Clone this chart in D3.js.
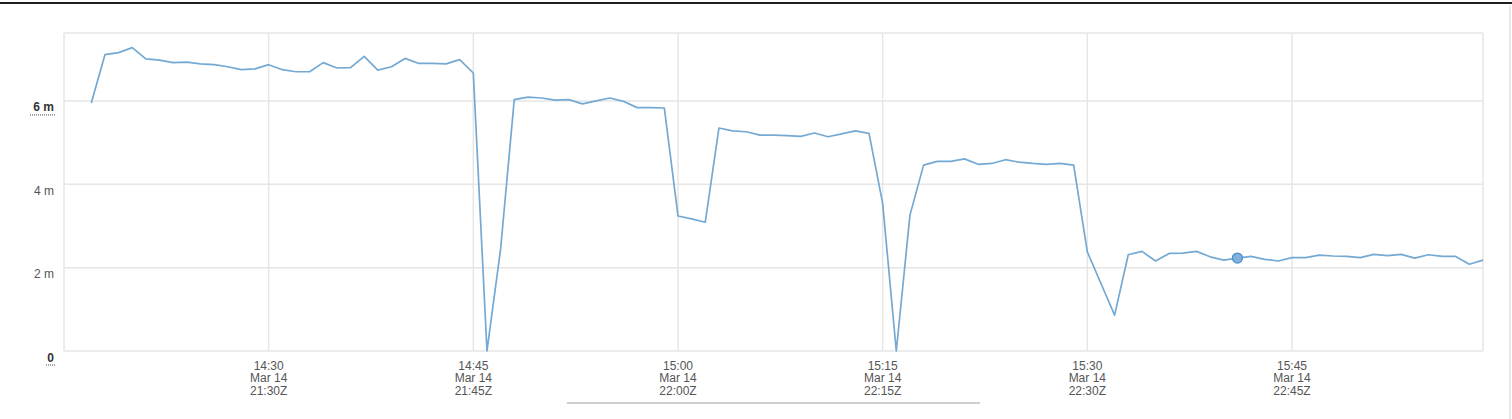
<!DOCTYPE html>
<html>
<head>
<meta charset="utf-8">
<script src="https://cdn.jsdelivr.net/npm/d3@7.9.0/dist/d3.min.js"></script>
<style>
  body { margin: 0; background: #fff; }
  svg { display: block; font-family: "Liberation Sans", Arial, sans-serif; }
  .grid line { stroke: #e6e6e6; stroke-width: 1.5; }
  .lbl { fill: #555; font-size: 12px; }
</style>
</head>
<body>
<svg id="chart" width="1512" height="419"></svg>
<script>
// first sample 21:17Z (14:17 local), one sample per minute
const startUtc = Date.UTC(2018, 2, 14, 21, 17);
const values = [
  5.95, 7.11, 7.16, 7.28, 7.01, 6.98, 6.92, 6.93, 6.89, 6.87, 6.82, 6.75, 6.77,
  6.87, 6.75, 6.70, 6.70, 6.92, 6.79, 6.80, 7.07, 6.74, 6.82, 7.02, 6.90, 6.90,
  6.89, 6.99, 6.67, 0.00, 2.45, 6.03, 6.09, 6.07, 6.02, 6.03, 5.93, 6.00, 6.07,
  5.99, 5.84, 5.84, 5.83,
  3.24, 3.17, 3.09, 5.35, 5.28, 5.26, 5.18, 5.18, 5.17, 5.15, 5.23, 5.14, 5.21,
  5.28, 5.22, 3.54, 0.00, 3.26, 4.46, 4.55, 4.55, 4.61, 4.48, 4.50, 4.59, 4.53,
  4.50, 4.48, 4.50, 4.46, 2.38, 1.62, 0.86, 2.31, 2.39, 2.16, 2.34, 2.35, 2.39,
  2.26, 2.18, 2.23, 2.27, 2.20, 2.16, 2.24, 2.24, 2.30, 2.28, 2.27, 2.24, 2.32,
  2.29, 2.32, 2.23, 2.31, 2.27, 2.27, 2.08, 2.18
];
const highlightIndex = 84; // 15:41 hover point

const yTicks = [0, 2, 4, 6];
const yTickLabels = ['0', '2 m', '4 m', '6 m'];
const xTicksUtc = [
  Date.UTC(2018, 2, 14, 21, 30), Date.UTC(2018, 2, 14, 21, 45),
  Date.UTC(2018, 2, 14, 22, 0), Date.UTC(2018, 2, 14, 22, 15),
  Date.UTC(2018, 2, 14, 22, 30), Date.UTC(2018, 2, 14, 22, 45)
];
const xLocalLabels = ['14:30', '14:45', '15:00', '15:15', '15:30', '15:45'];
const xDateLabels = ['Mar 14', 'Mar 14', 'Mar 14', 'Mar 14', 'Mar 14', 'Mar 14'];
const xUtcLabels = ['21:30Z', '21:45Z', '22:00Z', '22:15Z', '22:30Z', '22:45Z'];

const data = values.map((v, i) => ({ t: new Date(startUtc + i * 60000), v: v }));

const svg = d3.select('#chart');
const plotLeft = 64, plotRight = 1483, plotTop = 33, plotBottom = 351;

const x = d3.scaleUtc()
  .domain([new Date(Date.UTC(2018, 2, 14, 21, 15)), new Date(Date.UTC(2018, 2, 14, 22, 59))])
  .range([plotLeft, plotRight]);
const y = d3.scaleLinear().domain([0, 7.63]).range([plotBottom, plotTop]);

// page decorations
svg.append('rect').attr('x', 0).attr('y', 2).attr('width', 1512).attr('height', 2).attr('fill', '#1e1e1e');
svg.append('line').attr('x1', 1510).attr('x2', 1510).attr('y1', 5).attr('y2', 419)
  .attr('stroke', '#e2e2e2').attr('stroke-width', 1.5);
svg.append('line').attr('x1', 567).attr('x2', 980).attr('y1', 403).attr('y2', 403)
  .attr('stroke', '#bdbdbd').attr('stroke-width', 1.5);

// grid
const grid = svg.append('g').attr('class', 'grid');
grid.selectAll('.h').data(yTicks.concat([7.63])).join('line')
  .attr('x1', plotLeft).attr('x2', plotRight)
  .attr('y1', d => y(d)).attr('y2', d => y(d));
grid.selectAll('.v').data([x.domain()[0]].concat(xTicksUtc.map(d => new Date(d))).concat([x.domain()[1]])).join('line')
  .attr('x1', d => x(d)).attr('x2', d => x(d))
  .attr('y1', plotTop).attr('y2', plotBottom);

// y labels
svg.selectAll('.ylbl').data(yTicks).join('text')
  .attr('class', 'lbl')
  .attr('x', 54).attr('y', d => y(d) + 10.5)
  .attr('text-anchor', 'end')
  .style('fill', (d, i) => (i === 0 || i === 3) ? '#333' : '#555')
  .style('font-weight', (d, i) => (i === 0 || i === 3) ? 'bold' : 'normal')
  .text((d, i) => yTickLabels[i]);

// dotted underline on "6 m" and "0"
[[0, 46, 55], [6, 30, 55]].forEach(([v, x1, x2]) => {
  svg.append('line')
    .attr('x1', x1).attr('x2', x2)
    .attr('y1', y(v) + 14).attr('y2', y(v) + 14)
    .attr('stroke', '#444').attr('stroke-width', 1)
    .attr('stroke-dasharray', '1,1');
});

// x labels
const xl = svg.selectAll('.xlbl').data(xTicksUtc).join('text')
  .attr('class', 'lbl')
  .attr('text-anchor', 'middle')
  .attr('x', d => x(new Date(d)));
xl.append('tspan').attr('x', d => x(new Date(d))).attr('y', 369.5).text((d, i) => xLocalLabels[i]);
xl.append('tspan').attr('x', d => x(new Date(d))).attr('y', 382).text((d, i) => xDateLabels[i]);
xl.append('tspan').attr('x', d => x(new Date(d))).attr('y', 394.5).text((d, i) => xUtcLabels[i]);

// series line
const line = d3.line().x(d => x(d.t)).y(d => y(d.v));
svg.append('path')
  .datum(data)
  .attr('d', line)
  .attr('fill', 'none')
  .attr('stroke', '#74a9d3')
  .attr('stroke-width', 1.7)
  .attr('stroke-linejoin', 'round');

// hover marker
const hp = data[highlightIndex];
svg.append('circle')
  .attr('cx', x(hp.t)).attr('cy', y(hp.v)).attr('r', 5)
  .attr('fill', '#7fb0de').attr('stroke', '#4d8ac6').attr('stroke-width', 1.2);
</script>
</body>
</html>
